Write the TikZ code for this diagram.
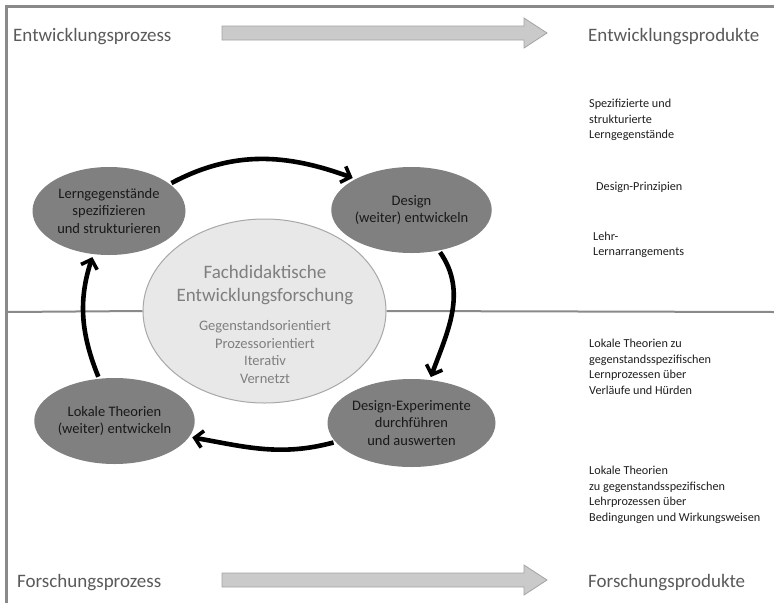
\documentclass[tikz,border=0pt]{standalone}
\usepackage{fontspec}
\setmainfont{Carlito}
\usetikzlibrary{shapes.geometric,arrows.meta}

\definecolor{framegray}{HTML}{8A8A8A}
\definecolor{stepfill}{HTML}{808080}
\definecolor{corefill}{HTML}{E8E8E8}
\definecolor{coreline}{HTML}{A8A8A8}
\definecolor{coretext}{HTML}{7F7F7F}
\definecolor{headtext}{HTML}{5A5A5A}
\definecolor{bigarrowfill}{HTML}{CACACA}
\definecolor{bigarrowline}{HTML}{A4A4A4}

\tikzset{
  stepnode/.style={ellipse, fill=stepfill, inner sep=0pt, align=center,
    text=black!90, font=\fontsize{14.5}{17.5}\selectfont},
  headlabel/.style={anchor=west, inner sep=0pt, text=headtext,
    font=\fontsize{19}{23}\selectfont},
  product/.style={anchor=west, inner sep=0pt, align=left, text=black!88,
    font=\fontsize{12.2}{15.5}\selectfont},
  cyclearrow/.style={line width=4.6pt, black, shorten <=2pt, shorten >=3pt,
    -{Straight Barb[length=8pt,width=17pt,line width=3.6pt]}},
  bigarrow/.style={fill=bigarrowfill, draw=bigarrowline, line width=0.8pt},
}

\begin{document}
\begin{tikzpicture}[x=1pt,y=1pt]
\useasboundingbox (0,0) rectangle (774,-603);
\fill[white] (0,0) rectangle (774,-603);

% outer frame (top and left edge)
\draw[framegray, line width=3pt] (6,-603) -- (6,-6) -- (774,-6);

% headings
\node[headlabel] (devproc) at (13,-37) {Entwicklungsprozess};
\node[headlabel] (devprod) at (588,-37) {Entwicklungsprodukte};
\node[headlabel] (resproc) at (17,-583) {Forschungsprozess};
\node[headlabel] (resprod) at (588,-583) {Forschungsprodukte};

% broad process arrows
\draw[bigarrow] (222,-26) -- (524,-26) -- (524,-18) -- (547,-33)
  -- (524,-48) -- (524,-40) -- (222,-40) -- cycle;
\draw[bigarrow] (222,-573) -- (524,-573) -- (524,-565) -- (547,-580)
  -- (524,-595) -- (524,-587) -- (222,-587) -- cycle;

% central ellipse
\node[ellipse, fill=corefill, draw=coreline, line width=1pt,
  minimum width=243pt, minimum height=184pt, inner sep=0pt] (core) at (264.5,-311) {};
\node[inner sep=0pt, align=center, text=coretext,
  font=\fontsize{19}{23}\selectfont] (coretitle) at (265,-285) {Fachdidaktische\\Entwicklungsforschung};
\node[inner sep=0pt, align=center, text=coretext,
  font=\fontsize{14.5}{17.4}\selectfont] (corelist) at (265,-352)
  {Gegenstandsorientiert\\Prozessorientiert\\Iterativ\\Vernetzt};

% divider between development and research
\coordinate (divl) at (7.5,-312);
\coordinate (divr) at (774,-312);
\draw[framegray, line width=2pt] (divl) -- (core.west);
\draw[framegray, line width=2pt] (core.east) -- (divr);

% the four steps of the cycle
\node[stepnode, minimum width=153pt, minimum height=88pt] (spec) at (109,-211)
  {Lerngegenstände\\spezifizieren\\und strukturieren};
\node[stepnode, minimum width=153pt, minimum height=86pt] (design) at (411.5,-210)
  {Design\\(weiter) entwickeln};
\node[stepnode, minimum width=154pt, minimum height=88pt] (exper) at (411.5,-423)
  {Design-Experimente\\durchführen\\und auswerten};
\node[stepnode, minimum width=155pt, minimum height=86pt] (theory) at (114.5,-421)
  {Lokale Theorien\\(weiter) entwickeln};

% cycle arrows
\draw[cyclearrow] (spec.24) to[out=28,in=160] (design.151);
\draw[cyclearrow] (design.-56) to[out=-55,in=70] (exper.67);
\draw[cyclearrow] (exper.194) to[out=195,in=-10] (theory.-12);
\draw[cyclearrow] (theory.110) to[out=112,in=-108] (spec.250);

% products
\node[product] (p1) at (589,-120) {Spezifizierte und\\strukturierte\\Lerngegenstände};
\node[product] (p2) at (596,-187) {Design-Prinzipien};
\node[product] (p3) at (593,-245) {Lehr-\\Lernarrangements};
\node[product] (p4) at (589,-367) {Lokale Theorien zu\\gegenstandsspezifischen\\Lernprozessen über\\Verläufe und Hürden};
\node[product] (p5) at (589,-495) {Lokale Theorien\\zu gegenstandsspezifischen\\Lehrprozessen über\\Bedingungen und Wirkungsweisen};
\end{tikzpicture}
\end{document}
